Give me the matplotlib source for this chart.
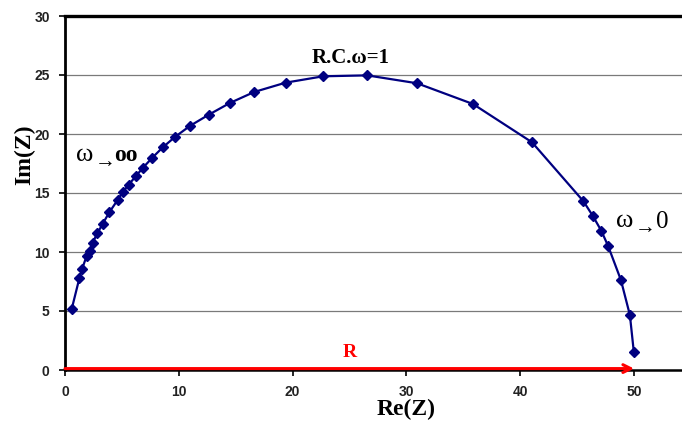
import numpy as np
import matplotlib.pyplot as plt

# Nyquist points
re_z = [0.59, 1.26, 1.49, 1.90, 2.19, 2.43, 2.84, 3.30, 3.89, 4.62, 5.06, 5.59,
        6.20, 6.85, 7.67, 8.58, 9.66, 11.0, 12.64, 14.49, 16.62, 19.38, 22.68,
        26.54, 30.93, 35.85, 41.03, 45.55, 46.36, 47.12, 47.73, 48.84, 49.63, 49.98]
im_z = [5.17, 7.77, 8.53, 9.66, 10.1, 10.8, 11.58, 12.37, 13.36, 14.4, 15.06, 15.7,
        16.4, 17.14, 17.99, 18.86, 19.75, 20.7, 21.64, 22.63, 23.56, 24.35, 24.89,
        24.97, 24.3, 22.54, 19.3, 14.3, 13.08, 11.8, 10.48, 7.63, 4.66, 1.5]
r_value = 50
x_ticks = [0, 10, 20, 30, 40, 50]
y_ticks = [0, 5, 10, 15, 20, 25, 30]

serif = 'Liberation Serif'
sans = 'Liberation Sans'

fig = plt.figure(figsize=(6.82, 4.26), dpi=100)
ax = fig.add_axes([65/682, 56/426, 626/682, 354/426])
ax.set_xlim(0, 55)
ax.set_ylim(0, 30)

# grid lines
for y in y_ticks[1:-1]:
    ax.axhline(y, color='#7a7a7a', lw=0.9, zorder=1)
ax.axhline(30, color='black', lw=2.4, zorder=2, clip_on=False)

ax.plot(re_z, im_z, color='#000080', lw=1.6, marker='D', markersize=5.5,
        markerfacecolor='#000080', markeredgecolor='#000080', zorder=4)

# red arrow for R
ax.annotate('', xy=(r_value, 0.12), xytext=(0, 0.12),
            arrowprops=dict(arrowstyle='->', color='red', lw=2.2,
                            mutation_scale=14, shrinkA=0, shrinkB=0),
            zorder=5, annotation_clip=False)
ax.text(25, 1.45, 'R', color='red', fontsize=14, fontweight='bold',
        family=serif, ha='center', va='center')

ax.text(25.1, 26.45, 'R.C.ω=1', fontsize=15, fontweight='bold',
        family=serif, ha='center', va='center')
ax.text(0.95, 18.25, 'ω', fontsize=19, family=serif, ha='left', va='center')
ax.text(2.6, 17.65, '→', fontsize=15, fontweight='bold', family=serif,
        ha='left', va='center')
ax.text(4.35, 18.2, 'oo', fontsize=17, fontweight='bold', family=serif,
        ha='left', va='center')
ax.text(48.45, 12.65, 'ω', fontsize=19, family=serif, ha='left', va='center')
ax.text(50.1, 12.05, '→', fontsize=15, fontweight='bold', family=serif,
        ha='left', va='center')
ax.text(51.9, 12.5, '0', fontsize=18, family=serif, ha='left', va='center')

ax.set_xticks(x_ticks)
ax.set_yticks(y_ticks)
ax.tick_params(length=4, width=1.2, pad=7, labelsize=10, color='black',
               labelcolor='#222222')
for lab in ax.get_xticklabels() + ax.get_yticklabels():
    lab.set_fontfamily(sans)
    lab.set_fontweight('bold')

for s in ['top', 'right']:
    ax.spines[s].set_visible(False)
ax.spines['left'].set_linewidth(2)
ax.spines['bottom'].set_linewidth(1.8)

ax.set_xlabel('Re(Z)', fontsize=17, fontweight='bold', family=serif)
ax.set_ylabel('Im(Z)', fontsize=17, fontweight='bold', family=serif)
ax.xaxis.set_label_coords(341/626, -0.082)
ax.yaxis.set_label_coords(-0.047, 0.607)

fig.savefig('out.png', dpi=100)
